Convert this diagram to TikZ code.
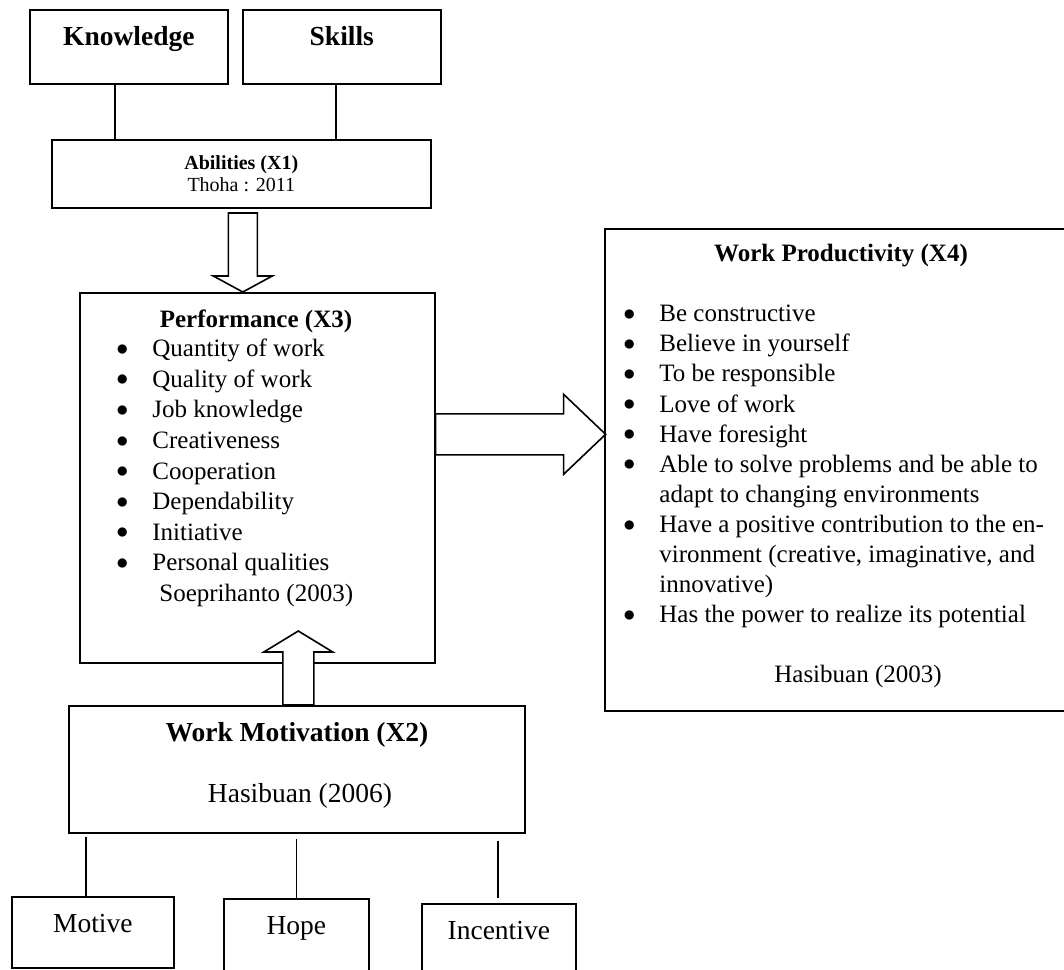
\documentclass[tikz,border=0pt]{standalone}
\usepackage{fontspec}
\setmainfont{Liberation Serif}

\newcommand\blt{\makebox[0pt]{\raisebox{0.7pt}{$\bullet$}}}

\tikzset{
  box/.style={draw, line width=0.8pt, inner sep=0pt},
  ln/.style={line width=0.8pt},
  fat/.style={draw, fill=white, line width=0.8pt},
  big/.style={font=\fontsize{13.75}{16.5}\selectfont, inner sep=0pt},
  bigb/.style={font=\fontsize{13.75}{16.5}\selectfont\bfseries, inner sep=0pt},
  txt/.style={font=\fontsize{12.5}{15.3}\selectfont, inner sep=0pt},
  txtb/.style={font=\fontsize{12.5}{15.3}\selectfont\bfseries, inner sep=0pt},
}

\begin{document}
\begin{tikzpicture}[x=0.5pt, y=-0.5pt]
\useasboundingbox (0,0) rectangle (1064,969);
\clip (0,0) rectangle (1064,969);

% Abilities
\node[box, bigb, anchor=north west, minimum width=99pt, text height=18pt, text depth=19pt] (know) at (29,9) {Knowledge};
\node[box, bigb, anchor=north west, minimum width=99pt, text height=18pt, text depth=19pt] (skill) at (242,9) {Skills};
\node[box, anchor=north west, minimum width=189.5pt, minimum height=34pt, align=center, font=\fontsize{10}{11}\selectfont] (abil) at (51,139) {\textbf{Abilities (X1)}\\Thoha : 2011};
\draw[ln] ([xshift=-7pt]know.south) -- ([xshift=-7pt]know.south |- abil.north);
\draw[ln] ([xshift=-3pt]skill.south) -- ([xshift=-3pt]skill.south |- abil.north);

% Performance
\node[box, anchor=north west, minimum width=177.5pt, minimum height=185pt] (perf) at (79,292) {};
\node[txtb, anchor=base] (perft) at (256,327) {Performance (X3)};
\node[txt, anchor=base west] (perfl) at (122,356.7) {\begin{tabular}[t]{@{}c@{\hspace{15pt}}l@{}}
\blt & Quantity of work\\
\blt & Quality of work\\
\blt & Job knowledge\\
\blt & Creativeness\\
\blt & Cooperation\\
\blt & Dependability\\
\blt & Initiative\\
\blt & Personal qualities\\
     & \hspace{3.5pt}Soeprihanto (2003)
\end{tabular}};

% Work motivation
\node[box, anchor=north west, minimum width=228pt, minimum height=63.5pt] (motiv) at (68,705) {};
\node[bigb, anchor=base] (motivt) at (297,741.5) {Work Motivation (X2)};
\node[big, anchor=base] (motivs) at (300,802) {Hasibuan (2006)};

\node[box, big, anchor=north west, minimum width=81pt, text height=17.85pt, text depth=17.65pt] (motive) at (11,896) {Motive};
\node[box, big, anchor=north west, minimum width=72.5pt, text height=17.65pt, text depth=21.5pt] (hope) at (223,898) {Hope};
\node[box, big, anchor=north west, minimum width=77pt, text height=17.65pt, text depth=21pt] (incent) at (421,903) {Incentive};
\draw[ln] ([xshift=-3.5pt]motive.north) -- ([xshift=-3.5pt,yshift=-1.5pt]motive.north |- motiv.south);
\draw[ln] (hope.north) -- ([yshift=-2.5pt]hope.north |- motiv.south);
\draw[ln] ([xshift=-0.5pt,yshift=2.5pt]incent.north) -- ([xshift=-0.5pt,yshift=-3.5pt]incent.north |- motiv.south);

% Work productivity
\node[box, anchor=north west, minimum width=237pt, minimum height=241pt] (prod) at (604,228) {};
\node[txtb, anchor=base] (prodt) at (841,261.5) {Work Productivity (X4)};
\node[txt, font=\fontsize{12.5}{15.05}\selectfont, anchor=base west] (prodl) at (629,321.7) {\begin{tabular}[t]{@{}c@{\hspace{15pt}}l@{}}
\blt & Be constructive\\
\blt & Believe in yourself\\
\blt & To be responsible\\
\blt & Love of work\\
\blt & Have foresight\\
\blt & Able to solve problems and be able to\\
     & adapt to changing environments\\
\blt & Have a positive contribution to the en-\\
     & vironment (creative, imaginative, and\\
     & innovative)\\
\blt & Has the power to realize its potential
\end{tabular}};
\node[txt, anchor=base] (prods) at (858,682) {Hasibuan (2003)};

% Block arrows
\draw[fat] ([xshift=-7.25pt]perf.north) -- ++(14.75pt,8pt) -- ++(-7.5pt,0) -- ++(0,31.5pt) -- ++(-14.5pt,0) -- ++(0,-31.5pt) -- ++(-7.5pt,0) -- cycle;
\draw[fat] ([xshift=-7pt]motiv.north) -- ++(0,26.5pt) -- ++(-9.5pt,0) -- ++(17.25pt,10.5pt) -- ++(17.25pt,-10.5pt) -- ++(-9.5pt,0) -- ++(0,-26.5pt) -- cycle;
\draw[fat] ([yshift=32pt]perf.east) -- ++(64pt,0) -- ++(0,9.75pt) -- ++(21pt,-20pt) -- ++(-21pt,-20pt) -- ++(0,9.75pt) -- ++(-64pt,0) -- cycle;

\end{tikzpicture}
\end{document}
